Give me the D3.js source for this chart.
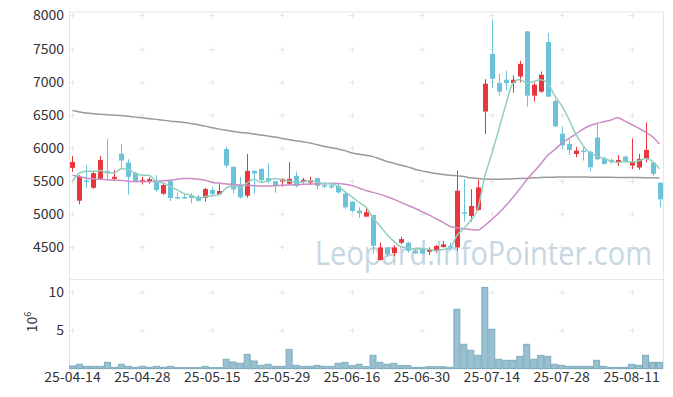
<!DOCTYPE html>
<html>
<head>
<meta charset="utf-8">
<script src="https://cdn.jsdelivr.net/npm/d3@7"></script>
<style>
  html, body { margin: 0; padding: 0; background: #fff; }
  svg { display: block; font-family: "Noto Sans CJK KR", "Noto Sans", sans-serif; }
</style>
</head>
<body>
<div id="chart"></div>
<script>
const dates = [
  "25-04-14", "25-04-15", "25-04-16", "25-04-17", "25-04-18", "25-04-21", "25-04-22", "25-04-23", "25-04-24", "25-04-25",
  "25-04-28", "25-04-29", "25-04-30", "25-05-02", "25-05-07", "25-05-08", "25-05-09", "25-05-12", "25-05-13", "25-05-14",
  "25-05-15", "25-05-16", "25-05-19", "25-05-20", "25-05-21", "25-05-22", "25-05-23", "25-05-26", "25-05-27", "25-05-28",
  "25-05-29", "25-05-30", "25-06-02", "25-06-04", "25-06-05", "25-06-09", "25-06-10", "25-06-11", "25-06-12", "25-06-13",
  "25-06-16", "25-06-17", "25-06-18", "25-06-19", "25-06-20", "25-06-23", "25-06-24", "25-06-25", "25-06-26", "25-06-27",
  "25-06-30", "25-07-01", "25-07-02", "25-07-03", "25-07-04", "25-07-07", "25-07-08", "25-07-09", "25-07-10", "25-07-11",
  "25-07-14", "25-07-15", "25-07-16", "25-07-17", "25-07-18", "25-07-21", "25-07-22", "25-07-23", "25-07-24", "25-07-25",
  "25-07-28", "25-07-29", "25-07-30", "25-07-31", "25-08-01", "25-08-04", "25-08-05", "25-08-06", "25-08-07", "25-08-08",
  "25-08-11", "25-08-12", "25-08-13", "25-08-14", "25-08-18"
];

const open = [
  5700, 5205, 5510, 5400, 5535, 5650, 5535, 5915, 5780, 5625,
  5490, 5495, 5500, 5310, 5500, 5260, 5260, 5285, 5265, 5250,
  5365, 5300, 5985, 5715, 5450, 5280, 5655, 5685, 5545, 5500,
  5495, 5460, 5580, 5490, 5480, 5545, 5440, 5435, 5425, 5315,
  5190, 5055, 4965, 4990, 4310, 4500, 4415, 4570, 4570, 4450,
  4475, 4435, 4445, 4505, 4520, 4500, 5030, 4975, 5065, 6550,
  7420, 6980, 7030, 6980, 7080, 7760, 6790, 6850, 7600, 6710,
  6215, 6060, 5910, 5960, 5945, 6160, 5845, 5820, 5790, 5870,
  5735, 5705, 5835, 5780, 5475
];
const high = [
  5880, 5590, 5745, 5640, 5880, 6140, 5665, 6060, 5830, 5640,
  5565, 5560, 5590, 5455, 5515, 5325, 5310, 5320, 5290, 5395,
  5415, 5455, 6020, 5725, 5565, 5910, 5660, 5690, 5770, 5505,
  5540, 5785, 5645, 5550, 5565, 5550, 5490, 5460, 5465, 5340,
  5195, 5105, 5100, 4965, 4570, 4505, 4535, 4660, 4585, 4480,
  4490, 4500, 4535, 4595, 4570, 5660, 5530, 5380, 5520, 7040,
  7945, 7120, 7165, 7095, 7315, 7765, 6990, 7155, 7735, 6735,
  6325, 6130, 6020, 6020, 5960, 6385, 5870, 5845, 5895, 5885,
  6145, 5910, 6385, 5790, 5490
];
const low = [
  5640, 5150, 5390, 5385, 5530, 5515, 5500, 5700, 5295, 5485,
  5450, 5460, 5340, 5295, 5200, 5225, 5230, 5165, 5190, 5190,
  5275, 5290, 5695, 5315, 5240, 5250, 5315, 5490, 5465, 5325,
  5415, 5450, 5405, 5465, 5445, 5380, 5390, 5385, 5310, 5085,
  5030, 4945, 4960, 4410, 4300, 4360, 4370, 4550, 4420, 4400,
  4390, 4385, 4420, 4500, 4450, 4450, 4890, 4890, 5055, 6210,
  6905, 6790, 6865, 6835, 6990, 6625, 6700, 6835, 6770, 6320,
  5995, 5895, 5860, 5810, 5645, 5820, 5755, 5760, 5730, 5780,
  5680, 5670, 5785, 5580, 5105
];
const close = [
  5790, 5565, 5500, 5620, 5820, 5620, 5565, 5810, 5565, 5500,
  5515, 5530, 5365, 5440, 5245, 5255, 5255, 5245, 5205, 5380,
  5305, 5350, 5735, 5375, 5255, 5655, 5615, 5515, 5495, 5425,
  5535, 5535, 5425, 5520, 5515, 5430, 5425, 5405, 5330, 5105,
  5050, 5015, 5030, 4525, 4500, 4395, 4500, 4625, 4450, 4410,
  4410, 4460, 4520, 4545, 4505, 5355, 5015, 5125, 5405, 6970,
  7045, 6850, 6980, 7030, 7270, 6790, 6955, 7105, 6775, 6325,
  6040, 5970, 5960, 5945, 5710, 5830, 5760, 5785, 5820, 5795,
  5790, 5835, 5970, 5610, 5225
];
// 거래량 (10^6)
const volume = [
  0.33, 0.55, 0.28, 0.28, 0.28, 0.81, 0.15, 0.55, 0.28, 0.15,
  0.28, 0.15, 0.28, 0.15, 0.28, 0.12, 0.12, 0.12, 0.12, 0.28,
  0.12, 0.12, 1.20, 0.85, 0.68, 1.85, 0.98, 0.41, 0.55, 0.28,
  0.28, 2.50, 0.41, 0.28, 0.28, 0.41, 0.28, 0.28, 0.68, 0.81,
  0.37, 0.55, 0.24, 1.72, 0.81, 0.55, 0.68, 0.37, 0.37, 0.15,
  0.15, 0.24, 0.24, 0.24, 0.15, 7.74, 3.16, 2.38, 1.72, 10.6,
  5.12, 1.20, 1.07, 1.07, 1.59, 3.16, 1.20, 1.72, 1.59, 0.55,
  0.41, 0.28, 0.28, 0.28, 0.28, 1.07, 0.28, 0.15, 0.15, 0.15,
  0.55, 0.41, 1.72, 0.81, 0.81
];
const ma5 = [
  5500, 5620, 5650, 5650, 5659, 5625, 5625, 5687, 5676, 5612,
  5591, 5584, 5495, 5470, 5419, 5367, 5312, 5288, 5241, 5268,
  5278, 5297, 5395, 5429, 5404, 5474, 5527, 5483, 5507, 5541,
  5517, 5501, 5483, 5488, 5506, 5485, 5463, 5459, 5421, 5339,
  5263, 5181, 5106, 4945, 4824, 4693, 4590, 4509, 4494, 4476,
  4479, 4471, 4450, 4469, 4488, 4677, 4788, 4909, 5081, 5574,
  5912, 6279, 6650, 6975, 7035, 6984, 7005, 7030, 6979, 6790,
  6640, 6443, 6214, 6048, 5925, 5883, 5841, 5806, 5781, 5798,
  5790, 5805, 5842, 5800, 5686
];
const ma20 = [
  5590, 5570, 5545, 5535, 5528, 5522, 5515, 5508, 5500, 5495,
  5492, 5495, 5500, 5505, 5515, 5530, 5540, 5540, 5530, 5512,
  5480, 5470, 5458, 5452, 5442, 5435, 5432, 5427, 5427, 5432,
  5437, 5442, 5447, 5452, 5457, 5457, 5462, 5468, 5466, 5454,
  5434, 5397, 5359, 5330, 5300, 5265, 5225, 5180, 5135, 5090,
  5040, 4990, 4935, 4880, 4820, 4795, 4780, 4770, 4762, 4830,
  4920, 5020, 5130, 5250, 5380, 5520, 5640, 5760, 5890, 5975,
  6070, 6140, 6210, 6280, 6335, 6370, 6395, 6420, 6455, 6410,
  6355, 6300, 6240, 6170, 6060
];
const ma60 = [
  6565, 6545, 6528, 6518, 6510, 6503, 6496, 6489, 6478, 6466,
  6455, 6443, 6432, 6420, 6405, 6395, 6385, 6368, 6350, 6330,
  6305, 6285, 6268, 6250, 6235, 6225, 6210, 6195, 6180, 6165,
  6145, 6125, 6110, 6095, 6075, 6050, 6025, 6005, 5985, 5960,
  5925, 5905, 5890, 5870, 5835, 5795, 5770, 5740, 5715, 5680,
  5655, 5635, 5615, 5600, 5590, 5580, 5570, 5550, 5540, 5530,
  5530, 5530, 5532, 5535, 5540, 5545, 5550, 5555, 5558, 5560,
  5562, 5563, 5563, 5562, 5560, 5560, 5558, 5557, 5556, 5555,
  5555, 5553, 5552, 5550, 5548
];
const priceTicks = [4500, 5000, 5500, 6000, 6500, 7000, 7500, 8000];
const volumeTicks = [5, 10];
const dateTickIndex = [0, 10, 20, 30, 40, 50, 60, 70, 80];

const width = 673;
const height = 397;
const left = 69;
const right = 663;
const priceTop = 11.5;
const priceBottom = 279;
const volTop = 279;
const volBottom = 368.5;

const upColor = "#e8363c";
const downColor = "#6cc2d9";
const frameColor = "#e6e6e6";
const gridColor = "#e4e4e4";

const svg = d3.select("#chart").append("svg")
  .attr("width", width)
  .attr("height", height);

const x = d3.scaleBand().domain(d3.range(dates.length)).range([left, right]);
const cx = i => x(i) + x.bandwidth() / 2;
const y = d3.scaleLinear().domain([4023, 8060]).range([priceBottom, priceTop]);
const yv = d3.scaleLinear().domain([0, 11.7]).range([volBottom, volTop]);

// 격자 (교차점에 작은 + 표시)
const grid = svg.append("g").attr("stroke", gridColor).attr("stroke-width", 1);
const crosses = [];
dateTickIndex.forEach(i => {
  priceTicks.forEach(p => crosses.push([cx(i), y(p)]));
  volumeTicks.forEach(v => crosses.push([cx(i), yv(v)]));
});
grid.selectAll("path")
  .data(crosses)
  .join("path")
  .attr("d", ([px, py]) => `M${Math.round(px) - 2.5},${Math.round(py) + 0.5}h5M${Math.round(px) + 0.5},${Math.round(py) - 2}v5`);

// 틀
const frame = svg.append("g").attr("stroke", frameColor).attr("fill", "none");
frame.append("rect")
  .attr("x", left + 0.5).attr("y", priceTop + 0.5)
  .attr("width", right - left).attr("height", volBottom - priceTop);
frame.append("line")
  .attr("x1", left).attr("x2", right)
  .attr("y1", priceBottom + 0.5).attr("y2", priceBottom + 0.5);

// 워터마크
svg.append("text")
  .attr("x", 315)
  .attr("y", 265)
  .attr("font-family", "'Open Sans', 'Noto Sans', sans-serif")
  .attr("font-size", 32)
  .attr("textLength", 337)
  .attr("lengthAdjust", "spacingAndGlyphs")
  .attr("fill", "#c4d7e3")
  .text("Leopard.InfoPointer.com");

// 거래량
svg.append("g")
  .selectAll("rect")
  .data(volume)
  .join("rect")
  .attr("x", (d, i) => x(i) + 0.5)
  .attr("y", d => yv(d))
  .attr("width", x.bandwidth() - 1)
  .attr("height", d => volBottom - yv(d))
  .attr("fill", "#98c0d1")
  .attr("stroke", "#7eacbf")
  .attr("stroke-width", 1);

// 캔들
const candles = svg.append("g")
  .selectAll("g")
  .data(d3.range(dates.length))
  .join("g")
  .attr("fill", i => close[i] >= open[i] ? upColor : downColor)
  .attr("stroke", i => close[i] >= open[i] ? upColor : downColor);

candles.append("line")
  .attr("x1", i => Math.round(cx(i)) + 0.5)
  .attr("x2", i => Math.round(cx(i)) + 0.5)
  .attr("y1", i => y(high[i]))
  .attr("y2", i => y(low[i]))
  .attr("stroke-width", 1);

candles.append("rect")
  .attr("x", i => Math.round(cx(i)) - 2)
  .attr("width", 5)
  .attr("y", i => y(Math.max(open[i], close[i])))
  .attr("height", i => Math.max(1.5, Math.abs(y(open[i]) - y(close[i]))))
  .attr("stroke", "none");

// 이동평균선
const maLine = series => d3.line()
  .x((d, i) => cx(i))
  .y(d => y(d))
  .curve(d3.curveMonotoneX)(series);

[[ma60, "#9a9a9a"], [ma20, "#cc8cc6"], [ma5, "#8fcfbf"]].forEach(([series, color]) => {
  svg.append("path")
    .attr("d", maLine(series))
    .attr("fill", "none")
    .attr("stroke", color)
    .attr("stroke-width", 1.5);
});

// 축
const axisText = g => g.selectAll("text")
  .attr("fill", "#333")
  .attr("font-size", 14)
  .attr("font-family", "'Noto Sans CJK KR', 'Noto Sans', sans-serif");

svg.append("g")
  .attr("transform", `translate(${left},0)`)
  .call(d3.axisLeft(y).tickValues(priceTicks).tickSize(0).tickPadding(5).tickFormat(d3.format("d")))
  .call(g => g.select(".domain").remove())
  .call(axisText);

svg.append("g")
  .attr("transform", `translate(${left},0)`)
  .call(d3.axisLeft(yv).tickValues(volumeTicks).tickSize(0).tickPadding(5))
  .call(g => g.select(".domain").remove())
  .call(axisText);

svg.append("g")
  .attr("transform", `translate(0,${volBottom})`)
  .call(d3.axisBottom(x).tickValues(dateTickIndex).tickSize(0).tickPadding(4).tickFormat(i => dates[i]))
  .call(g => g.select(".domain").remove())
  .call(axisText);

// 거래량 단위
const unit = svg.append("text")
  .attr("transform", "translate(37,322) rotate(-90)")
  .attr("text-anchor", "middle")
  .attr("fill", "#333")
  .attr("font-size", 14);
unit.append("tspan").text("10");
unit.append("tspan").attr("font-size", 9).attr("dy", -6).text("6");
</script>
</body>
</html>
